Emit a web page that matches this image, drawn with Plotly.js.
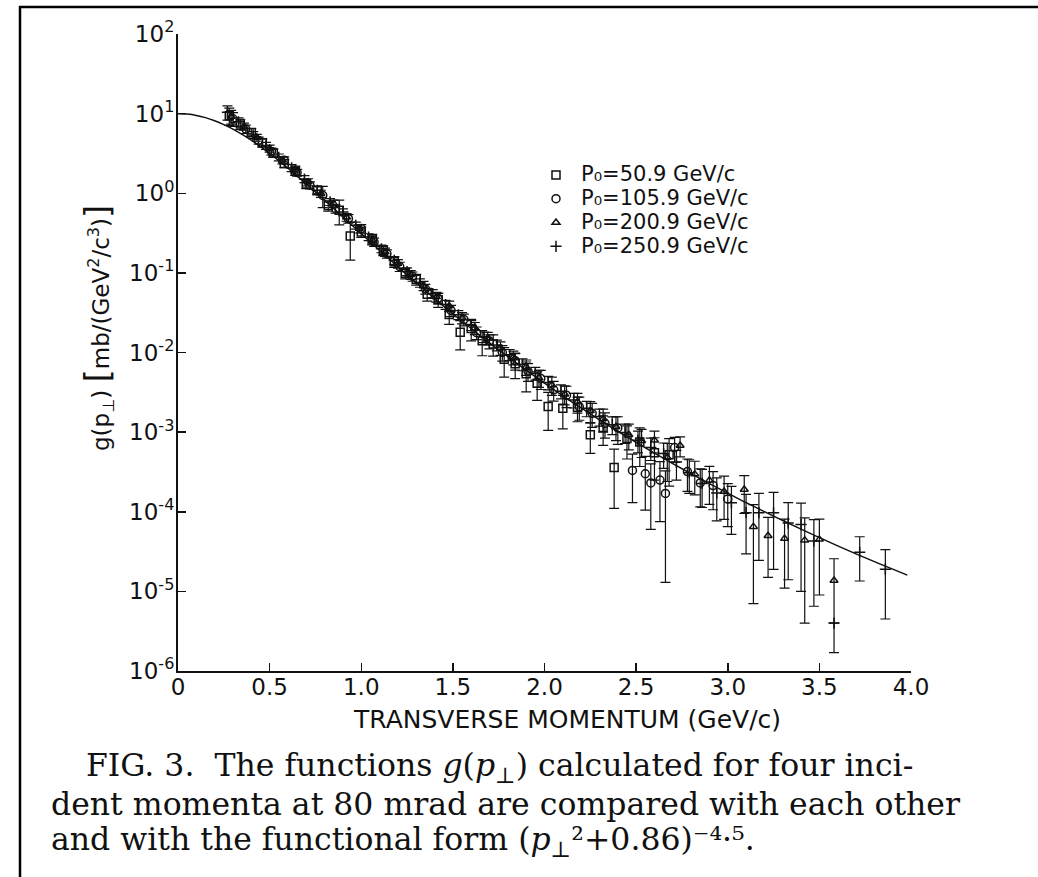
<!DOCTYPE html>
<html>
<head>
<meta charset="utf-8">
<script src="https://cdn.plot.ly/plotly-3.0.1.min.js"></script>
<style>html,body{margin:0;padding:0;background:#fff;}#chart{width:1038px;height:877px;}</style>
</head>
<body>
<div id="chart"></div>
<script>
// ---- functional form (p_perp^2+0.86)^-4.5 ----
const curveP = [0,0.05,0.1,0.15,0.2,0.25,0.3,0.4,0.5,0.6,0.7,0.8,0.9,1.0,1.1,1.2,1.3,1.4,1.5,1.6,1.7,1.8,1.9,2.0,2.1,2.2,2.3,2.4,2.5,2.6,2.7,2.8,2.9,3.0,3.1,3.2,3.3,3.4,3.5,3.6,3.7,3.8,3.9,3.98];
const curveG = [10.0,9.86,9.49,8.90,8.15,7.29,6.39,4.64,3.17,2.07,1.31,0.818,0.504,0.311,0.192,0.119,0.0751,0.0477,0.0307,0.0200,0.01323,0.00886,0.00600,0.00412,0.00286,0.00201,0.00143,0.001026,0.000744,0.000545,0.000402,0.000300,0.000225,0.000171,0.000130,0.0001003,0.0000776,0.0000604,0.0000474,0.0000373,0.0000296,0.0000236,0.0000190,0.0000160];

// ---- P0 = 50.9 GeV/c (squares) ----
const pSq = [0.28,0.34,0.40,0.46,0.52,0.58,0.64,0.70,0.76,0.82,0.88,0.94,1.00,1.06,1.12,1.18,1.24,1.30,1.36,1.42,1.48,1.54,1.60,1.66,1.72,1.78,1.84,1.90,1.96,2.02,2.10,2.18,2.25,2.32,2.38,2.45,2.52,2.60,2.68];
const gSq = [9.4,7.4,5.8,4.3,3.2,2.37,1.9,1.31,1.09,0.70,0.61,0.29,0.327,0.267,0.192,0.138,0.099,0.083,0.054,0.046,0.030,0.018,0.020,0.014,0.0128,0.0082,0.0072,0.0054,0.0041,0.0021,0.0020,0.00205,0.00093,0.00114,0.00036,0.00083,0.00075,0.00055,0.00052];
const eSq = [2.3,1.1,0.7,0.52,0.38,0.28,0.23,0.17,0.14,0.105,0.21,0.145,0.049,0.037,0.027,0.021,0.015,0.013,0.0097,0.0092,0.0075,0.0072,0.006,0.0049,0.0038,0.0033,0.0025,0.0022,0.0016,0.00105,0.0009,0.0007,0.00039,0.00046,0.00025,0.00037,0.00038,0.0003,0.00031];

// ---- P0 = 105.9 GeV/c (circles) ----
const pCi = [0.30,0.37,0.44,0.51,0.58,0.65,0.72,0.79,0.86,0.93,1.00,1.07,1.14,1.21,1.28,1.35,1.42,1.49,1.56,1.63,1.70,1.77,1.84,1.91,1.98,2.05,2.12,2.19,2.26,2.33,2.40,2.48,2.55,2.58,2.63,2.66,2.71,2.78,2.85,2.92,3.00];
const gCi = [8.6,6.4,4.6,3.35,2.6,1.82,1.26,0.94,0.64,0.48,0.36,0.244,0.174,0.12,0.0905,0.063,0.048,0.0337,0.026,0.0177,0.0139,0.010,0.0079,0.0058,0.0047,0.0034,0.0029,0.00208,0.00172,0.00129,0.00113,0.00033,0.00030,0.00023,0.00025,0.00017,0.00064,0.00032,0.00023,0.000213,0.000145];
const eCi = [1.7,0.77,0.46,0.34,0.26,0.18,0.13,0.28,0.077,0.058,0.043,0.029,0.021,0.016,0.012,0.0088,0.0072,0.0054,0.0044,0.0032,0.0028,0.0022,0.0019,0.00145,0.00127,0.00095,0.00087,0.00067,0.00057,0.00045,0.00043,0.00020,0.000195,0.00017,0.000175,0.000157,0.00022,0.00014,0.000115,0.000107,0.00008];

// ---- P0 = 200.9 GeV/c (triangles) ----
const pTr = [0.29,0.36,0.43,0.50,0.57,0.64,0.71,0.78,0.85,0.92,0.99,1.06,1.13,1.20,1.27,1.34,1.41,1.48,1.55,1.62,1.69,1.76,1.83,1.90,1.97,2.04,2.11,2.18,2.25,2.32,2.39,2.46,2.53,2.60,2.67,2.74,2.82,2.90,2.98,3.09,3.14,3.22,3.31,3.42,3.50,3.58];
const gTr = [9.2,6.9,5.0,3.65,2.6,2.0,1.38,0.99,0.74,0.50,0.36,0.256,0.183,0.131,0.095,0.069,0.050,0.0385,0.0273,0.0203,0.0152,0.0114,0.0087,0.0066,0.0048,0.0039,0.0030,0.0024,0.00186,0.00147,0.00117,0.00093,0.00078,0.00079,0.00048,0.00068,0.000297,0.000248,0.00018,0.00019,0.000065,0.00005,0.000046,0.000044,0.000045,0.0000137];
const eTr = [1.8,0.69,0.5,0.37,0.26,0.2,0.14,0.1,0.081,0.055,0.043,0.031,0.022,0.016,0.012,0.009,0.007,0.0058,0.0044,0.0035,0.0027,0.0022,0.0017,0.00145,0.00115,0.001,0.0008,0.00067,0.00056,0.00047,0.00039,0.00033,0.0003,0.00024,0.00024,0.00019,0.000134,0.000124,0.0001,0.000095,0.000058,0.000035,0.000035,0.00004,0.000036,0.000012];

// ---- P0 = 250.9 GeV/c (plus) ----
const pPl = [0.27,0.33,0.41,0.48,0.55,0.62,0.69,0.76,0.83,0.90,0.97,1.04,1.11,1.18,1.25,1.32,1.39,1.46,1.53,1.60,1.67,1.74,1.81,1.88,1.95,2.02,2.09,2.16,2.23,2.30,2.37,2.44,2.51,2.58,2.65,2.72,2.79,2.86,2.94,3.02,3.10,3.17,3.25,3.33,3.40,3.47,3.58,3.72,3.86];
const gPl = [10.4,7.9,5.4,3.95,2.83,2.08,1.51,1.09,0.78,0.58,0.395,0.282,0.201,0.144,0.104,0.075,0.055,0.040,0.0297,0.022,0.0157,0.0124,0.0094,0.0071,0.0055,0.0042,0.00326,0.00254,0.002,0.00157,0.00124,0.00099,0.00079,0.00064,0.00054,0.00042,0.00031,0.000227,0.000172,0.00013,0.0000975,0.0000975,0.0000969,0.000072,0.000069,0.000043,0.000004,0.000031,0.000019];
const ePl = [2.1,0.95,0.54,0.4,0.28,0.21,0.15,0.11,0.078,0.058,0.04,0.028,0.022,0.016,0.0114,0.009,0.0066,0.0052,0.0039,0.0031,0.0024,0.0019,0.0015,0.0012,0.001,0.0008,0.00065,0.00053,0.00044,0.00038,0.00031,0.00027,0.00024,0.0002,0.00019,0.00017,0.00014,0.000114,0.000095,0.000078,0.000068,0.000073,0.000078,0.000058,0.000059,0.0000365,0,0.0000175,0.0000145];

// ---- labels ----
const xTickVals = [0,0.5,1.0,1.5,2.0,2.5,3.0,3.5,4.0];
const xTickText = ['0','0.5','1.0','1.5','2.0','2.5','3.0','3.5','4.0'];
const yExps = [-6,-5,-4,-3,-2,-1,0,1,2];
const seriesNames = ['P₀=50.9 GeV/c','P₀=105.9 GeV/c','P₀=200.9 GeV/c','P₀=250.9 GeV/c'];

// ---- geometry ----
const W = 1038, H = 877;
const M = {l:178, r:127, t:34, b:206};
const PW = W - M.l - M.r, PH = H - M.t - M.b;
const px2x = px => (px - M.l) / PW;
const px2y = py => (H - M.b - py) / PH;

const SANS = 'DejaVu Sans, sans-serif';
const SERIF = 'DejaVu Serif, serif';
const INK = '#111';

function dataTrace(x, y, e, name, symbol, size){
  return {
    x: x, y: y, name: '<span style="font-size:21px">' + name + '</span>', type: 'scatter', mode: 'markers',
    marker: {symbol: symbol, size: size, color: INK, line: {color: INK, width: 1.5}},
    error_y: {type: 'data', array: e, visible: true, color: INK, thickness: 1.2, width: 5},
    cliponaxis: true
  };
}

const traces = [
  {x: curveP, y: curveG, type: 'scatter', mode: 'lines', line: {color: INK, width: 1.5, shape: 'spline'}, showlegend: false, hoverinfo: 'skip'},
  dataTrace(pSq, gSq, eSq, seriesNames[0], 'square-open', 8),
  dataTrace(pCi, gCi, eCi, seriesNames[1], 'circle-open', 8),
  dataTrace(pTr, gTr, eTr, seriesNames[2], 'triangle-up-open', 7),
  dataTrace(pPl, gPl, ePl, seriesNames[3], 'cross-thin-open', 8)
];

const layout = {
  width: W, height: H,
  margin: M,
  paper_bgcolor: '#fff', plot_bgcolor: '#fff',
  font: {family: SANS, color: INK},
  showlegend: true,
  legend: {
    x: px2x(531), y: px2y(158), xanchor: 'left', yanchor: 'top',
    bgcolor: 'rgba(0,0,0,0)', borderwidth: 0,
    font: {family: SANS, size: 16, color: INK},
    itemwidth: 40, tracegroupgap: 0
  },
  xaxis: {
    range: [0, 4.0], tickmode: 'array', tickvals: xTickVals, ticktext: xTickText,
    ticks: 'inside', ticklen: 8, tickwidth: 1.5, tickcolor: INK,
    showline: true, linecolor: INK, linewidth: 2, mirror: false,
    showgrid: false, zeroline: false, ticklabelstandoff: -6,
    tickfont: {family: SANS, size: 23, color: INK}
  },
  yaxis: {
    type: 'log', range: [-6, 2], tickmode: 'array',
    tickvals: yExps.map(k => Math.pow(10, k)),
    ticktext: yExps.map(k => '10<sup>' + k + '</sup>'),
    ticks: 'inside', ticklen: 8, tickwidth: 1.5, tickcolor: INK,
    showline: true, linecolor: INK, linewidth: 2, mirror: false,
    showgrid: false, zeroline: false, ticklabelstandoff: -3,
    tickfont: {family: SANS, size: 23, color: INK}
  },
  annotations: [
    {text: 'g(p<sub>⊥</sub>) <span style="font-size:34px">[</span>mb/(GeV<sup>2</sup>/c<sup>3</sup>)<span style="font-size:34px">]</span>',
     textangle: -90, xref: 'paper', yref: 'paper', x: px2x(97), y: px2y(328),
     xanchor: 'center', yanchor: 'middle', showarrow: false,
     font: {family: SANS, size: 23, color: INK}},
    {text: 'TRANSVERSE MOMENTUM (GeV/c)', xref: 'paper', yref: 'paper',
     x: px2x(567), y: px2y(719), xanchor: 'center', yanchor: 'middle', showarrow: false,
     font: {family: SANS, size: 25, color: INK}},
    {text: 'FIG. 3.  The functions <i>g</i>(<i>p</i><sub>⊥</sub>) calculated for four inci-', xref: 'paper', yref: 'paper',
     x: px2x(84), y: px2y(767), xanchor: 'left', yanchor: 'middle', showarrow: false,
     font: {family: SERIF, size: 31.5, color: INK}},
    {text: 'dent momenta at 80 mrad are compared with each other', xref: 'paper', yref: 'paper',
     x: px2x(49), y: px2y(804), xanchor: 'left', yanchor: 'middle', showarrow: false,
     font: {family: SERIF, size: 31.5, color: INK}},
    {text: 'and with the functional form (<i>p</i><sub>⊥</sub>²+0.86)⁻⁴·⁵.', xref: 'paper', yref: 'paper',
     x: px2x(49), y: px2y(841), xanchor: 'left', yanchor: 'middle', showarrow: false,
     font: {family: SERIF, size: 31.5, color: INK}}
  ],
  shapes: [
    {type: 'line', xref: 'paper', yref: 'paper', x0: px2x(20), x1: px2x(20), y0: px2y(6), y1: px2y(H + 10), line: {color: '#000', width: 2.5}},
    {type: 'line', xref: 'paper', yref: 'paper', x0: px2x(19), x1: px2x(W + 10), y0: px2y(7), y1: px2y(7), line: {color: '#000', width: 2.5}}
  ]
};

Plotly.newPlot('chart', traces, layout, {displayModeBar: false, staticPlot: true});
</script>
</body>
</html>
